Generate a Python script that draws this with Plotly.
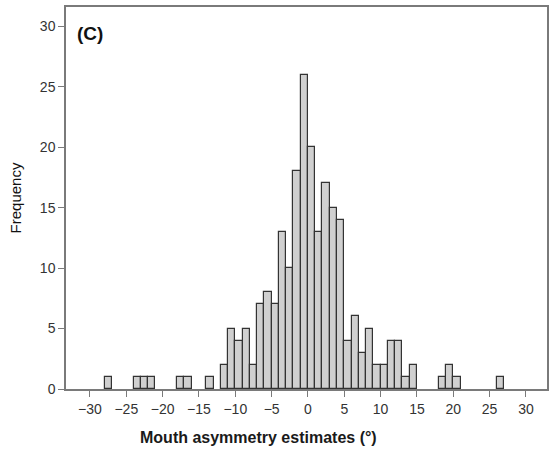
import plotly.graph_objects as go

# Histogram bins (left edge, degrees) and frequencies, bin width = 1 degree
bin_left = [-28, -24, -23, -22, -18, -17, -14, -12, -11, -10, -9, -8, -7, -6, -5, -4, -3, -2, -1,
            0, 1, 2, 3, 4, 5, 6, 7, 8, 9, 10, 11, 12, 13, 14, 18, 19, 20, 26]
counts = [1, 1, 1, 1, 1, 1, 1, 2, 5, 4, 5, 2, 7, 8, 7, 13, 10, 18, 26,
          20, 13, 17, 15, 14, 4, 6, 3, 5, 2, 2, 4, 4, 1, 2, 1, 2, 1, 1]
bin_width = 1

x_ticks = list(range(-30, 31, 5))
x_tick_labels = [("\u2212" + str(-v)) if v < 0 else str(v) for v in x_ticks]
y_ticks = list(range(0, 31, 5))

centers = [b + bin_width / 2 for b in bin_left]

axis_col = "#7a7a7a"

fig = go.Figure()
fig.add_trace(go.Bar(
    x=centers, y=counts, width=bin_width,
    marker=dict(color="#d0d0d0", line=dict(color="#333333", width=1.2)),
    hoverinfo="x+y",
))

fig.update_layout(
    width=550, height=449,
    margin=dict(l=66, r=1, t=7, b=60),
    paper_bgcolor="white", plot_bgcolor="white",
    showlegend=False,
    font=dict(family="Liberation Sans, Arial, sans-serif", color="#222222", size=14),
    bargap=0,
    annotations=[
        dict(text="<b>(C)</b>", xref="paper", yref="paper", x=0.019, y=0.963,
             xanchor="left", yanchor="top", showarrow=False,
             font=dict(size=19, color="#111111")),
        dict(text="<b>Mouth asymmetry estimates (°)</b>", xref="paper", yref="paper",
             x=0.401, y=-0.126, xanchor="center", yanchor="middle", showarrow=False,
             font=dict(size=16, color="#1a1a1a")),
    ],
)
fig.update_xaxes(
    range=[-33.3, 32.9], tickmode="array", tickvals=x_ticks, ticktext=x_tick_labels,
    ticks="outside", ticklen=6, tickcolor=axis_col, tickwidth=1,
    showline=True, linecolor=axis_col, linewidth=1.5, mirror=True,
    showgrid=False, zeroline=False,
    tickfont=dict(size=14, color="#333333"),
)
fig.update_yaxes(
    range=[0, 31.6], tickmode="array", tickvals=y_ticks,
    ticks="outside", ticklen=6, tickcolor=axis_col, tickwidth=1,
    showline=True, linecolor=axis_col, linewidth=1.5, mirror=True,
    showgrid=False, zeroline=False,
    tickfont=dict(size=14, color="#333333"),
    title=dict(text="Frequency", font=dict(size=15, color="#111111"), standoff=15),
)

fig.write_html("out.html", config={"displayModeBar": False},
               post_script="document.body.style.margin='0';")
